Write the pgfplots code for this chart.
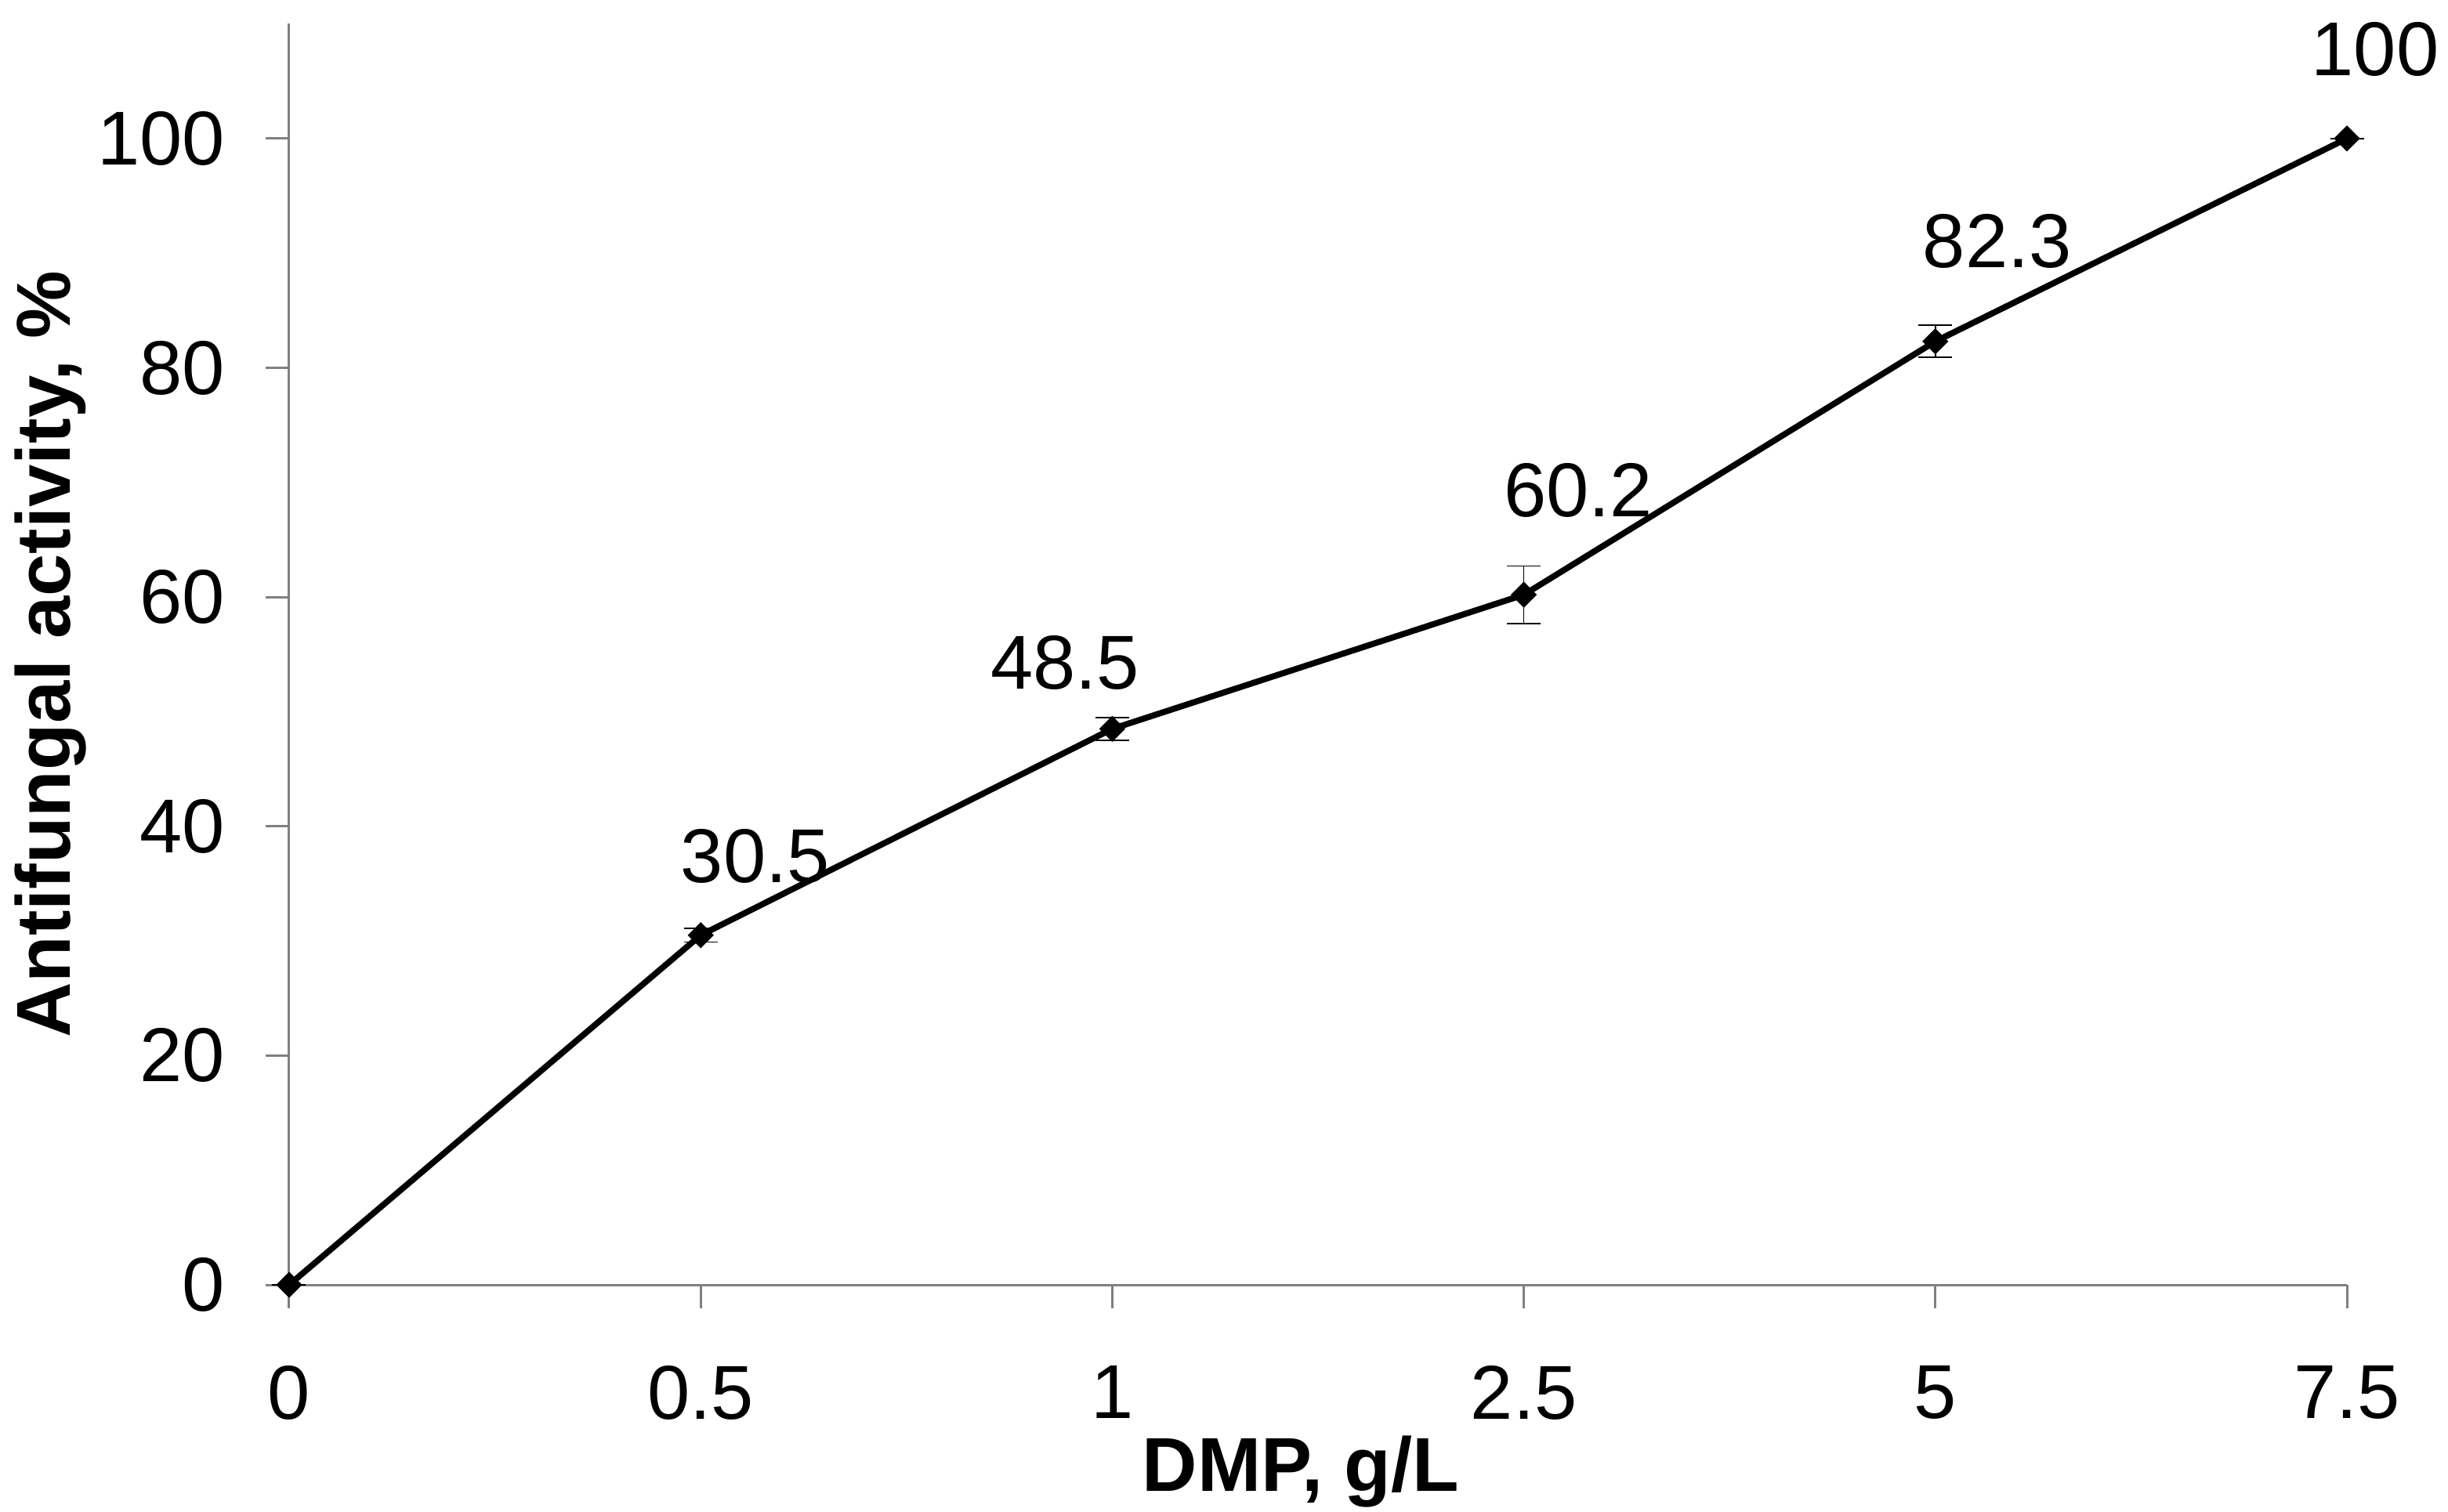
\documentclass[border=0pt]{standalone}
\usepackage{pgfplots}
\pgfplotsset{compat=1.18}
\usepackage{fontspec}
\setmainfont{Liberation Sans}
\definecolor{axgray}{RGB}{128,128,128}
\begin{document}
\fontsize{19.5}{23}\selectfont
\begin{tikzpicture}
\begin{axis}[
  name=ax,
  scale only axis,
  width=525.2pt, height=321.9pt,
  xmin=0, xmax=5, ymin=0, ymax=110,
  axis x line*=bottom, axis y line*=left,
  axis line style={axgray, line width=0.6pt},
  tick style={axgray, line width=0.6pt},
  tick align=outside,
  major tick length=6pt,
  xtick={0,...,5},
  xticklabels={0,0.5,1,2.5,5,7.5},
  ytick={0,20,...,100},
  /pgf/number format/assume math mode=true,
  ticklabel style={font=\fontsize{19.5}{23}\selectfont},
  xticklabel style={yshift=-8pt},
  yticklabel style={xshift=-3.7pt},
  xlabel={\bfseries DMP, g/L},
  ylabel={\bfseries Antifungal activity, \%},
  xlabel style={at={(axis description cs:0.4916,-0.1634)}, anchor=base},
  ylabel style={at={(axis description cs:-0.1161,0.5)}, anchor=center},
  clip=false,
]
\addplot[black, line width=1.55pt, mark=square*, mark size=2.15pt,
  mark options={rotate=45, solid, line width=0.4pt},
  error bars/.cd, y dir=both, y explicit,
  error bar style={black, line width=0.35pt},
  error mark options={rotate=90, black, mark size=4.3pt, line width=0.35pt}]
  table[x=x, y=y, y error=e] {
  x y e
  0 0 0
  1 30.5 0.6
  2 48.5 1.0
  3 60.2 2.5
  4 82.3 1.4
  5 100 0
};
\node[anchor=base, xshift=13.9pt, yshift=13.4pt] at (axis cs:1,30.5) {30.5};
\node[anchor=base, xshift=-12.1pt, yshift=10.1pt] at (axis cs:2,48.5) {48.5};
\node[anchor=base, xshift=13.9pt, yshift=20pt] at (axis cs:3,60.2) {60.2};
\node[anchor=base, xshift=15.8pt, yshift=18.8pt] at (axis cs:4,82.3) {82.3};
\node[anchor=base, xshift=7.2pt, yshift=16pt] at (axis cs:5,100) {100};
\end{axis}
\pgfresetboundingbox
\path[use as bounding box] ([xshift=-73.8pt,yshift=-58pt]ax.south west) rectangle ([xshift=25.8pt,yshift=6.1pt]ax.north east);
\end{tikzpicture}
\end{document}
